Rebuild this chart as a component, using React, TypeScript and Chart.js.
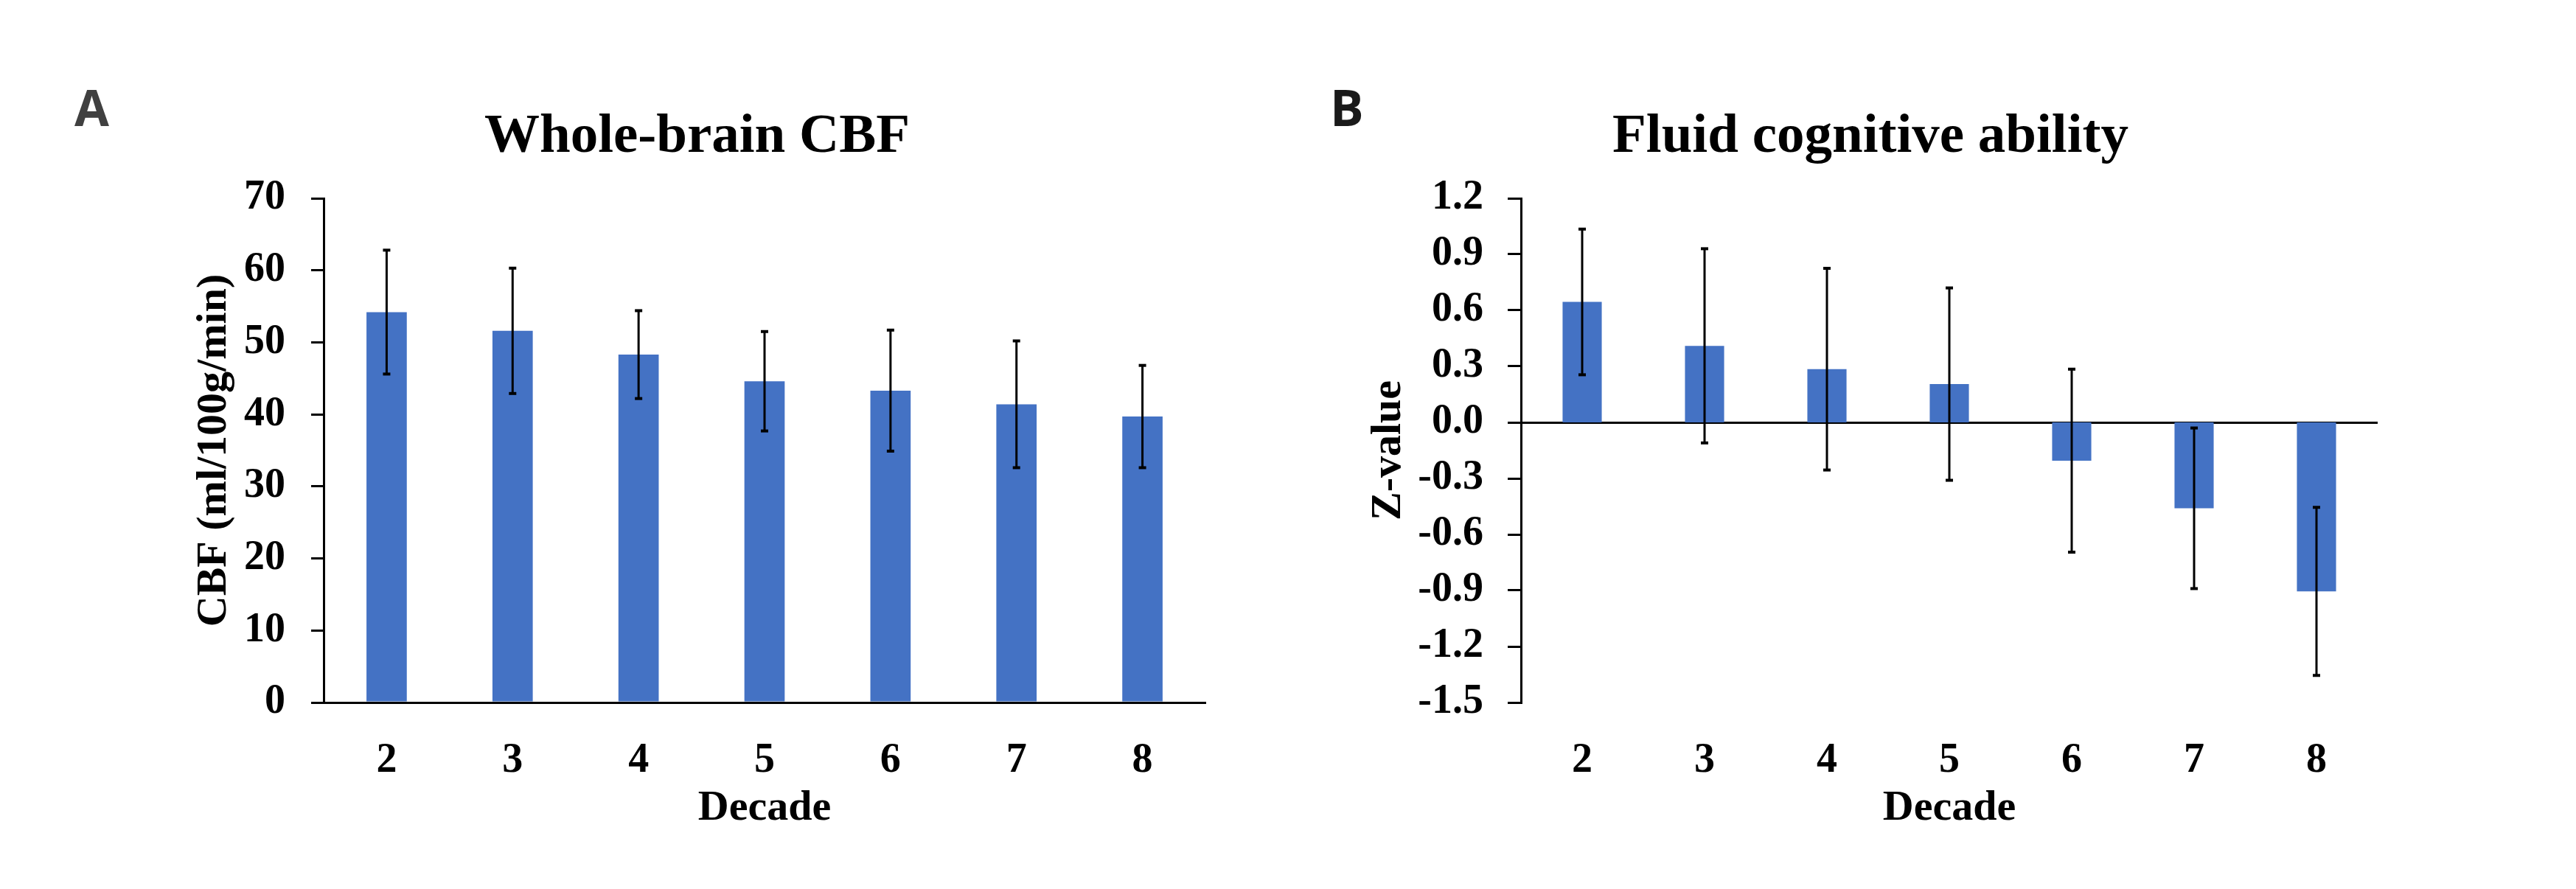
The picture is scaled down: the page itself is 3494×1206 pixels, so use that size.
import React, { useEffect, useRef } from 'react';
import { Chart, registerables } from 'chart.js';

Chart.register(...registerables);

// ---------- data ----------
const decades = ['2', '3', '4', '5', '6', '7', '8'];

const cbfMeans = [54.2, 51.6, 48.3, 44.6, 43.3, 41.4, 39.7];
const cbfErrors = [8.6, 8.7, 6.1, 6.9, 8.4, 8.8, 7.1];
const cbfTickLabels = ['0', '10', '20', '30', '40', '50', '60', '70'];

const zMeans = [0.645, 0.41, 0.285, 0.205, -0.205, -0.46, -0.905];
const zErrors = [0.39, 0.52, 0.54, 0.515, 0.49, 0.43, 0.45];
const zTickLabels = ['-1.5', '-1.2', '-0.9', '-0.6', '-0.3', '0.0', '0.3', '0.6', '0.9', '1.2'];

// ---------- styling ----------
const SERIF = "'Liberation Serif', 'Times New Roman', serif";
const BAR_BLUE = '#4472C4';

function errorBarPlugin(errors: number[]) {
  return {
    id: 'errorBars',
    afterDatasetsDraw(chart: any) {
      const meta = chart.getDatasetMeta(0);
      const ys = chart.scales.y;
      const vals = chart.data.datasets[0].data as number[];
      const ctx = chart.ctx;
      ctx.save();
      ctx.strokeStyle = '#000';
      meta.data.forEach((bar: any, i: number) => {
        const x = bar.x;
        const top = ys.getPixelForValue(vals[i] + errors[i]);
        const bot = ys.getPixelForValue(vals[i] - errors[i]);
        ctx.lineWidth = 3;
        ctx.beginPath();
        ctx.moveTo(x, top);
        ctx.lineTo(x, bot);
        ctx.stroke();
        ctx.lineWidth = 4;
        [top, bot].forEach((y) => {
          ctx.beginPath();
          ctx.moveTo(x - 5, y);
          ctx.lineTo(x + 5, y);
          ctx.stroke();
        });
      });
      ctx.restore();
    },
  };
}

function letterPlugin(letter: string, x: number, y: number, color: string) {
  return {
    id: 'panelLetter',
    afterDraw(chart: any) {
      const ctx = chart.ctx;
      ctx.save();
      ctx.font = "700 68px 'Open Sans', sans-serif";
      ctx.fillStyle = color;
      ctx.textAlign = 'left';
      ctx.textBaseline = 'alphabetic';
      ctx.fillText(letter, x, y);
      ctx.restore();
    },
  };
}

interface PanelOpts {
  title: string;
  yTitle: string;
  means: number[];
  errors: number[];
  tickLabels: string[];
  padLeft: number;
  padRight: number;
  yWidth: number;
  tickLen: number;
  tickPad: number;
  zeroLine: boolean;
  letter: string;
  letterX: number;
  letterColor: string;
}

function makeConfig(o: PanelOpts): any {
  const tickVals = o.tickLabels.map(Number);
  const yMin = tickVals[0];
  const yMax = tickVals[tickVals.length - 1];
  const step = tickVals[1] - tickVals[0];
  return {
    type: 'bar',
    data: {
      labels: decades,
      datasets: [
        {
          data: o.means,
          backgroundColor: BAR_BLUE,
          borderWidth: 0,
          barPercentage: 0.32,
          categoryPercentage: 1,
        },
      ],
    },
    options: {
      responsive: false,
      animation: false,
      layout: { padding: { left: o.padLeft, right: o.padRight, top: 0, bottom: 0 } },
      plugins: {
        legend: { display: false },
        tooltip: { enabled: false },
        title: {
          display: true,
          text: o.title,
          color: '#000',
          font: { family: SERIF, size: 75, weight: 'bold', lineHeight: 1.2 },
          padding: { top: 142, bottom: 37 },
        },
      },
      scales: {
        x: {
          afterFit: (s: any) => {
            s.height = 253;
          },
          grid: { display: false, drawTicks: false },
          border: { display: !o.zeroLine, color: '#000', width: 3 },
          ticks: {
            color: '#000',
            padding: 46,
            font: { family: SERIF, size: 56, weight: 'bold', lineHeight: 1.2 },
          },
          title: {
            display: true,
            text: 'Decade',
            color: '#000',
            font: { family: SERIF, size: 58, weight: 'bold', lineHeight: 1.2 },
            padding: { top: 0, bottom: 74 },
          },
        },
        y: {
          min: yMin,
          max: yMax,
          z: o.zeroLine ? 1 : 0,
          afterFit: (s: any) => {
            s.width = o.yWidth;
          },
          ticks: {
            stepSize: step,
            color: '#000',
            padding: o.tickPad,
            font: { family: SERIF, size: 56, weight: 'bold', lineHeight: 1.2 },
            callback: (_v: any, i: number) => o.tickLabels[i],
          },
          grid: {
            display: true,
            drawOnChartArea: o.zeroLine,
            drawTicks: true,
            tickLength: o.tickLen,
            tickColor: '#000',
            tickWidth: 3,
            lineWidth: 3,
            color: (c: any) =>
              o.zeroLine && c.tick && Math.abs(c.tick.value) < 1e-9 ? '#000' : 'rgba(0,0,0,0)',
          },
          border: { display: true, color: '#000', width: 3 },
          title: {
            display: true,
            text: o.yTitle,
            color: '#000',
            font: { family: SERIF, size: 58, weight: 'bold', lineHeight: 1.2 },
            padding: { top: 0, bottom: 0 },
          },
        },
      },
    },
    plugins: [errorBarPlugin(o.errors), letterPlugin(o.letter, o.letterX, 171, o.letterColor)],
  };
}

export default function App() {
  const refA = useRef<HTMLCanvasElement>(null);
  const refB = useRef<HTMLCanvasElement>(null);

  useEffect(() => {
    const a = new Chart(
      refA.current as HTMLCanvasElement,
      makeConfig({
        title: 'Whole-brain CBF',
        yTitle: 'CBF (ml/100g/min)',
        means: cbfMeans,
        errors: cbfErrors,
        tickLabels: cbfTickLabels,
        padLeft: 256,
        padRight: 112,
        yWidth: 183,
        tickLen: 17,
        tickPad: 35,
        zeroLine: false,
        letter: 'A',
        letterX: 101,
        letterColor: '#404040',
      })
    );
    const b = new Chart(
      refB.current as HTMLCanvasElement,
      makeConfig({
        title: 'Fluid cognitive ability',
        yTitle: 'Z-value',
        means: zMeans,
        errors: zErrors,
        tickLabels: zTickLabels,
        padLeft: 102,
        padRight: 269,
        yWidth: 214,
        tickLen: 18,
        tickPad: 33,
        zeroLine: true,
        letter: 'B',
        letterX: 57,
        letterColor: '#1a1a1a',
      })
    );
    return () => {
      a.destroy();
      b.destroy();
    };
  }, []);

  return (
    <div
      style={{
        position: 'absolute',
        left: 0,
        top: 0,
        width: 3494,
        height: 1206,
        background: '#fff',
        overflow: 'hidden',
      }}
    >
      <canvas
        ref={refA}
        width={1747}
        height={1206}
        style={{ position: 'absolute', left: 0, top: 0, width: 1747, height: 1206 }}
      />
      <canvas
        ref={refB}
        width={1747}
        height={1206}
        style={{ position: 'absolute', left: 1747, top: 0, width: 1747, height: 1206 }}
      />
    </div>
  );
}
